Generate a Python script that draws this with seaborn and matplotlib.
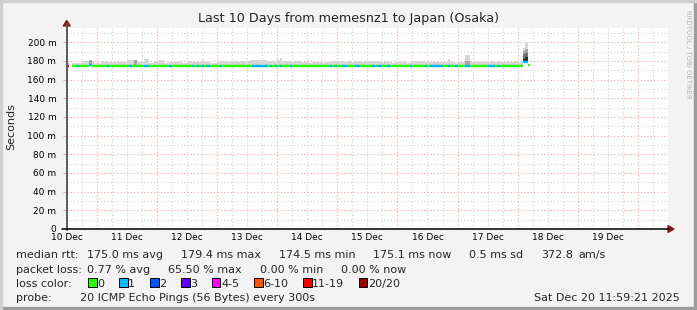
import numpy as np
import pandas as pd
import matplotlib
matplotlib.use("Agg")
import matplotlib.pyplot as plt
import seaborn as sns
from matplotlib.patches import Polygon, Rectangle
from matplotlib.lines import Line2D

nan = float("nan")

# ---------------- data ----------------
TITLE = "Last 10 Days from memesnz1 to Japan (Osaka)"
DAY_LABELS = ["10 Dec", "11 Dec", "12 Dec", "13 Dec", "14 Dec",
              "15 Dec", "16 Dec", "17 Dec", "18 Dec", "19 Dec"]
Y_TICKS_MS = [0, 20, 40, 60, 80, 100, 120, 140, 160, 180, 200]
Y_TICK_LABELS = ["0", "20 m", "40 m", "60 m", "80 m", "100 m",
                 "120 m", "140 m", "160 m", "180 m", "200 m"]
Y_MAX_MS = 215.3

# hourly values, first value = 10 Dec 12:00
median_ms = [
    175, nan, 175, 175, 175, 175, 175, 175, 175, 176, 175, 175, 175, 175, 175, 175, 175, 175, 175, 175, 175, 175, 175, 175,
    175, 175, 175, 175, 175, 175, 175, 175, 175, 175, 175, 175, 175, 175, 175, 175, 175, 175, 175, 175, 175, 175, 175, 175,
    175, 175, 175, 175, 175, 175, 175, 175, 175, 175, 175, 175, 175, 175, 175, 175, 175, 175, 175, 175, 175, 175, 175, 175,
    175, 175, 175, 175, 175, 175, 175, 175, 175, 175, 175, 175, 175, 175, 175, 175, 175, 175, 175, 175, 175, 175, 175, 175,
    175, 175, 175, 175, 175, 175, 175, 175, 175, 175, 175, 175, 175, 175, 175, 175, 175, 175, 175, 175, 175, 175, 175, 175,
    175, 175, 175, 175, 175, 175, 175, 175, 175, 175, 175, 175, 175, 175, 175, 175, 175, 175, 175, 175, 175, 175, 175, 175,
    175, 175, 175, 175, 175, 175, 175, 175, 175, 175, 175, 175, 175, 175, 175, 175, 175, 175, 175, 175, 175, 175, 175, 175,
    175, 175, 175, 175, 175, 175, 175, 175, 175, 175, 175, 175, 175, 175, 179, 179, 175.5,
]
loss_pings = [
    12, 0, 0, 0, 1, 0, 0, 0, 0, 1, 0, 0, 0, 0, 0, 0, 1, 0, 0, 0, 0, 0, 0, 0,
    0, 1, 0, 0, 0, 0, 0, 1, 1, 0, 0, 0, 0, 0, 0, 0, 0, 1, 0, 0, 0, 0, 0, 0,
    0, 0, 1, 0, 1, 0, 1, 0, 1, 0, 0, 0, 0, 1, 0, 0, 0, 0, 0, 0, 0, 0, 0, 0,
    0, 0, 1, 1, 1, 1, 1, 1, 0, 1, 0, 1, 0, 1, 0, 0, 0, 1, 0, 0, 0, 0, 0, 0,
    0, 0, 0, 0, 0, 0, 0, 0, 0, 1, 0, 1, 0, 0, 1, 1, 0, 0, 0, 1, 1, 0, 0, 0,
    0, 0, 1, 0, 1, 1, 0, 0, 1, 0, 0, 0, 0, 0, 0, 0, 0, 1, 0, 0, 0, 0, 0, 1,
    0, 1, 1, 1, 1, 1, 0, 0, 1, 0, 0, 1, 0, 0, 0, 1, 1, 0, 0, 0, 0, 0, 0, 0,
    1, 1, 1, 0, 1, 0, 0, 0, 0, 0, 0, 0, 0, 0, 1, 1, 0,
]
smoke_max_ms = [
    179, nan, 178, 178, 178, 178, 180, 180, 180, 180, 180, 178, 178, 178, 179.5, 179.5, 178.5, 178.5, 178.5, 178.5, 178.5, 178.5, 178.5, 178.5,
    181, 181, 181, 181.5, 178.5, 178.5, 178.5, 182, 182, 178, 178, 179, 179, 181, 181, 178, 178, 179, 179, 179, 179, 179, 177.5, 177.5,
    179, 179.5, 179, 178.5, 179, 179, 179.5, 179, 179, 178, 178, 178, 179, 179.5, 180, 179.5, 179, 179.5, 180, 179.5, 179, 179.5, 180, 179.5,
    179.5, 181, 181, 181.5, 181, 181, 180.5, 181, 180, 180, 180, 180, 181, 183, 179.5, 180, 179.5, 179.5, 179, 179.5, 180, 179.5, 178.5, 178.5,
    178.5, 178, 178.5, 178.5, 179, 178.5, 178, 178.5, 178.5, 179.5, 180, 179.5, 179.5, 180, 179.5, 179, 179.5, 179.5, 179, 179.5, 180, 179.5, 179, 179.5,
    179.5, 179, 179.5, 180, 179.5, 179.5, 179, 179.5, 178.5, 178.5, 178, 178.5, 178.5, 179, 178.5, 178.5, 178, 179.5, 179.5, 180, 179.5, 179, 179.5, 178.5,
    178.5, 179, 178.5, 178.5, 179, 178.5, 178.5, 179, 182.5, 178.5, 178.5, 178, 178.5, 178.5, 179, 186.5, 186.5, 179, 178.5, 179, 178.5, 178.5, 179, 178.5,
    179, 179.5, 179, 179, 179.5, 179, 178.5, 179, 179.5, 179, 179, 179.5, 179, 179, 193.5, 199, 177,
]
# darker smoke layers (hour index -> top of the layer)
dark_hours = [9, 27, 159, 160, 182, 183]
dark_top_ms = [180.5, 181.5, 179.5, 179.5, 191.0, 193.0]
darker_hours = [182, 183]
darker_top_ms = [187.0, 189.0]
darkest_hours = [182, 183]
darkest_top_ms = [182.5, 184.0]

LOSS_LABELS = ["0", "1", "2", "3", "4-5", "6-10", "11-19", "20/20"]
LOSS_UPPER = [0, 1, 2, 3, 5, 10, 19, 20]
LOSS_COLORS = ["#26ff00", "#00b8ff", "#0059ff", "#5e00ff",
               "#ff00ff", "#ff5500", "#ff0000", "#a00000"]

RTT_STATS = ["175.0 ms avg", "179.4 ms max", "174.5 ms min",
             "175.1 ms now", "0.5 ms sd", "372.8", "am/s"]
LOSS_STATS = ["0.77 % avg", "65.50 % max", "0.00 % min", "0.00 % now"]
PROBE_TEXT = "20 ICMP Echo Pings (56 Bytes) every 300s"
DATE_TEXT = "Sat Dec 20 11:59:21 2025"
WATERMARK = "RRDTOOL / TOBI OETIKER"

# ---------------- figure ----------------
W, H = 697, 310
sns.set_theme(style="white")
plt.rcParams["font.family"] = ["DejaVu Sans"]
fig = plt.figure(figsize=(W / 100, H / 100), dpi=100, facecolor="#F3F3F3")


def fx(x):
    return x / W


def fy(y):
    return 1 - y / H


L, R, T, B = 66.7, 668.0, 28.0, 229.0
ax = fig.add_axes([fx(L), fy(B), fx(R) - fx(L), fy(T) - fy(B)])
ax.set_facecolor("white")

START = 0.5  # 10 Dec 12:00 in days since 10 Dec 00:00
HOUR = 1 / 24.0


def bucket(n):
    for lab, up in zip(LOSS_LABELS, LOSS_UPPER):
        if n <= up:
            return lab
    return LOSS_LABELS[-1]


# smoke
t0 = [START + i * HOUR for i in range(len(median_ms))]
med = np.array(median_ms, dtype=float)
smax = np.array(smoke_max_ms, dtype=float)
ok = ~np.isnan(med)
ax.bar(np.array(t0)[ok], (smax - med)[ok], bottom=med[ok], width=HOUR,
       align="edge", color="#D6D6D6", linewidth=0, zorder=2)
for hours, tops, col in [(dark_hours, dark_top_ms, "#A6A6A6"),
                         (darker_hours, darker_top_ms, "#707070"),
                         (darkest_hours, darkest_top_ms, "#303030")]:
    xs = [START + h * HOUR for h in hours]
    bots = [median_ms[h] for h in hours]
    ax.bar(xs, [t - b for t, b in zip(tops, bots)], bottom=bots, width=HOUR,
           align="edge", color=col, linewidth=0, zorder=3)

# median line coloured by loss
rows = []
for i, (m, n) in enumerate(zip(median_ms, loss_pings)):
    if np.isnan(m):
        continue
    lab = bucket(n)
    rows.append(dict(t=START + i * HOUR, ms=m, loss=lab, seg=i))
    rows.append(dict(t=START + (i + 1) * HOUR, ms=m, loss=lab, seg=i))
df = pd.DataFrame(rows)
sns.lineplot(data=df, x="t", y="ms", hue="loss", units="seg", estimator=None,
             palette=dict(zip(LOSS_LABELS, LOSS_COLORS)), linewidth=1.75,
             legend=False, sort=False, ax=ax, solid_capstyle="butt", zorder=5)

# axes / grid
ax.set_xlim(0.5, 10.5)
ax.set_ylim(0, Y_MAX_MS)
ax.set_xlabel("")
ax.set_ylabel("")
for s in ax.spines.values():
    s.set_visible(False)

dot = (0, (1, 2))
for d in range(1, 11):
    ax.axvline(d, color="#F2A0A0", lw=0.8, ls=dot, zorder=1)
for q in np.arange(0.75, 10.5, 0.25):
    if abs(q - round(q)) > 1e-6:
        ax.axvline(q, color="#CFCFCF", lw=0.8, ls=dot, zorder=1)
for yv in Y_TICKS_MS[1:]:
    ax.axhline(yv, color="#F2A0A0", lw=0.8, ls=dot, zorder=1)
for yv in range(10, 215, 20):
    ax.axhline(yv, color="#CFCFCF", lw=0.8, ls=dot, zorder=1)

ax.set_yticks(Y_TICKS_MS)
ax.set_yticklabels(Y_TICK_LABELS)
ax.set_xticks([d + 0.5 for d in range(len(DAY_LABELS))])
ax.set_xticklabels(DAY_LABELS)
ax.tick_params(axis="y", length=3, width=0.7, color="#F2A0A0", pad=4.5,
               labelsize=6.5, labelcolor="black", left=True)
ax.tick_params(axis="x", length=0, pad=3.0, labelsize=6.5, labelcolor="black",
               bottom=True)

# axis lines with arrows
fig.add_artist(Line2D([fx(L), fx(L)], [fy(B + 1), fy(24)], color="#5A5A5A", lw=1.4))
fig.add_artist(Line2D([fx(62), fx(669)], [fy(B), fy(B)], color="black", lw=1.1))
fig.add_artist(Polygon([[fx(L - 3.5), fy(26)], [fx(L + 3.5), fy(26)], [fx(L), fy(20.5)]],
                       closed=True, color="#8B1A1A", transform=fig.transFigure))
fig.add_artist(Polygon([[fx(668), fy(B - 3.5)], [fx(668), fy(B + 3.5)], [fx(674), fy(B)]],
                       closed=True, color="#8B1A1A", transform=fig.transFigure))

# frame
fig.add_artist(Rectangle((0, 0), 1, fy(307), color="#9C9C9C", transform=fig.transFigure))
fig.add_artist(Rectangle((fx(694), 0), 1 - fx(694), 1, color="#9C9C9C", transform=fig.transFigure))
fig.add_artist(Rectangle((0, fy(2)), 1, 1 - fy(2), color="#D0D0D0", transform=fig.transFigure))
fig.add_artist(Rectangle((0, 0), fx(2), 1, color="#D0D0D0", transform=fig.transFigure))

# texts
fig.text(fx(348.5), fy(18.5), TITLE, fontsize=9.2, ha="center", va="center")
fig.text(fx(11), fy(127), "Seconds", fontsize=8, rotation=90, ha="center", va="center")
fig.text(fx(688), fy(54), WATERMARK, fontsize=5, rotation=270, ha="center",
         va="center", color="#B4B4B4")

FS = 8
# baselines of the four legend rows
y1, y2, y3, y4 = 258.3, 272.6, 286.6, 300.6
fig.text(fx(16), fy(y1), "median rtt:", fontsize=FS, va="baseline")
for txt, xp in zip(RTT_STATS, [87, 181, 279, 373, 469, 541, 578]):
    fig.text(fx(xp), fy(y1), txt, fontsize=FS, va="baseline")
fig.text(fx(16), fy(y2), "packet loss:", fontsize=FS, va="baseline")
for txt, xp in zip(LOSS_STATS, [87, 168, 260, 341]):
    fig.text(fx(xp), fy(y2), txt, fontsize=FS, va="baseline")
fig.text(fx(16), fy(y3), "loss color:", fontsize=FS, va="baseline")
for lab, col, xp in zip(LOSS_LABELS, LOSS_COLORS, [88, 119, 150, 181, 212, 254, 303, 359]):
    fig.add_artist(Rectangle((fx(xp), fy(y3 + 0.3)), fx(8.5), fy(0) - fy(8.6),
                             facecolor=col, edgecolor="black", lw=0.7,
                             transform=fig.transFigure))
    fig.text(fx(xp + 9), fy(y3), lab, fontsize=FS, va="baseline")
fig.text(fx(16), fy(y4), "probe:", fontsize=FS, va="baseline")
fig.text(fx(80.5), fy(y4), PROBE_TEXT, fontsize=FS, va="baseline")
fig.text(fx(680), fy(y4), DATE_TEXT, fontsize=FS, va="baseline", ha="right")

fig.savefig("out.png", dpi=100, facecolor=fig.get_facecolor())
